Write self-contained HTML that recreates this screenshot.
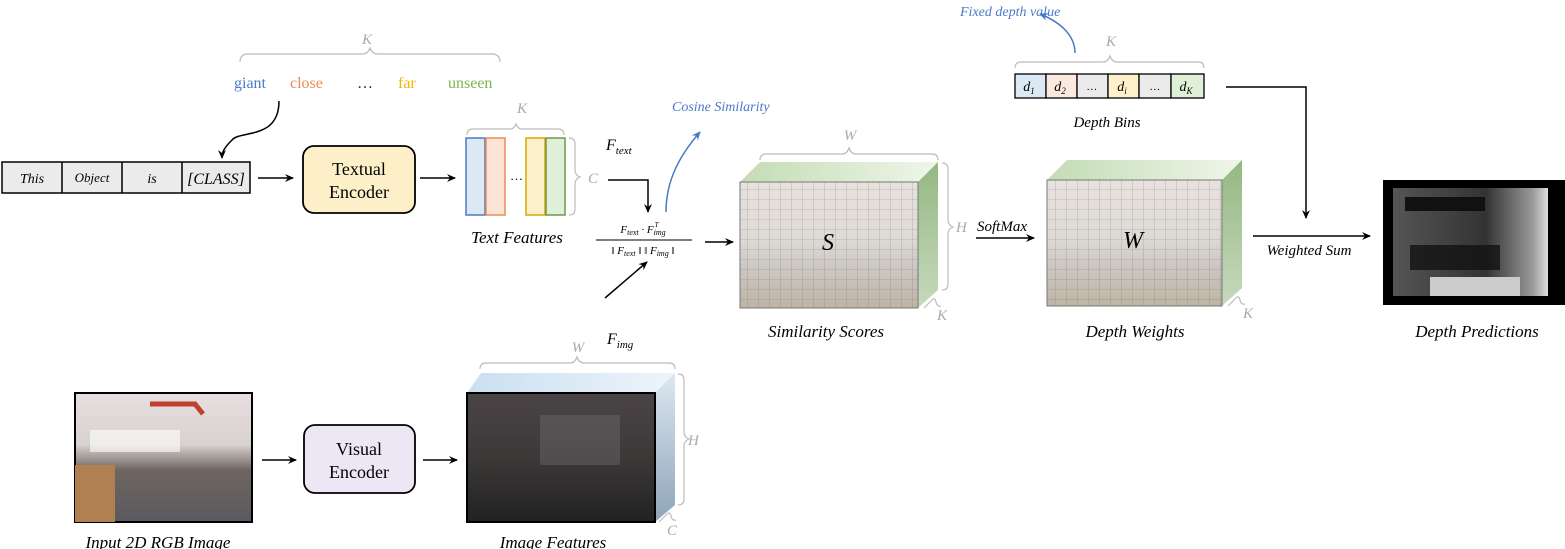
<!DOCTYPE html>
<html><head><meta charset="utf-8"><style>
html,body{margin:0;padding:0;background:#fff;}
svg{display:block;font-family:"Liberation Serif",serif;}
.i{font-style:italic;}
.g{fill:#aaa;font-style:italic;}
</style></head><body>
<svg width="1565" height="549" viewBox="0 0 1565 549" xmlns="http://www.w3.org/2000/svg">
<defs>
<marker id="a" markerWidth="10" markerHeight="10" refX="8" refY="5" orient="auto" markerUnits="userSpaceOnUse"><path d="M0,1 L9,5 L0,9 L3,5z" fill="#000"/></marker>
<marker id="b" markerWidth="10" markerHeight="10" refX="8" refY="5" orient="auto" markerUnits="userSpaceOnUse"><path d="M0,1 L9,5 L0,9 L3,5z" fill="#4a78c8"/></marker>
<pattern id="grid" width="11" height="10" patternUnits="userSpaceOnUse"><path d="M11 0V10H0" fill="none" stroke="#666" stroke-width="0.6" opacity="0.6"/></pattern>
<linearGradient id="room" x1="0" y1="0" x2="0" y2="1"><stop offset="0" stop-color="#e8e2de"/><stop offset="0.45" stop-color="#dedad6"/><stop offset="0.7" stop-color="#cbc6c0"/><stop offset="1" stop-color="#bfb4a4"/></linearGradient>
<linearGradient id="rgb" x1="0" y1="0" x2="0" y2="1"><stop offset="0" stop-color="#e8dfe0"/><stop offset="0.4" stop-color="#d8d2d0"/><stop offset="0.6" stop-color="#6e6560"/><stop offset="1" stop-color="#5a5a60"/></linearGradient>
<linearGradient id="dark" x1="0" y1="0" x2="0" y2="1"><stop offset="0" stop-color="#4a4446"/><stop offset="0.45" stop-color="#3e3a3a"/><stop offset="1" stop-color="#222"/></linearGradient>
<linearGradient id="gtop" x1="0" y1="0" x2="1" y2="0"><stop offset="0" stop-color="#c4dcb4"/><stop offset="1" stop-color="#eef6ea"/></linearGradient>
<linearGradient id="gside" x1="0" y1="0" x2="0" y2="1"><stop offset="0" stop-color="#94b882"/><stop offset="1" stop-color="#c7d9bd"/></linearGradient>
<linearGradient id="btop" x1="0" y1="0" x2="1" y2="0"><stop offset="0" stop-color="#c9dff0"/><stop offset="1" stop-color="#eef4fb"/></linearGradient>
<linearGradient id="bside" x1="0" y1="0" x2="0" y2="1"><stop offset="0" stop-color="#dde8f2"/><stop offset="1" stop-color="#8ea4b8"/></linearGradient>
<linearGradient id="dp" x1="0" y1="0" x2="1" y2="0"><stop offset="0" stop-color="#555"/><stop offset="0.6" stop-color="#333"/><stop offset="0.9" stop-color="#999"/><stop offset="1" stop-color="#ddd"/></linearGradient>
</defs>

<path d="M240,62 q0,-8 8,-8 H362 q6,0 8,-6 q2,6 8,6 H492 q8,0 8,8" fill="none" stroke="#bbb" stroke-width="1.2"/>
<text x="367" y="44" class="g" font-size="15" text-anchor="middle">K</text>
<g font-size="16">
<text x="234" y="88" fill="#4a7cc4">giant</text>
<text x="290" y="88" fill="#ef8a55">close</text>
<text x="357" y="88" fill="#333">…</text>
<text x="398" y="88" fill="#f0b400">far</text>
<text x="448" y="88" fill="#7cb552">unseen</text>
</g>
<path d="M279,101 C279,140 240,130 232,140 C224,148 222,152 222,158" fill="none" stroke="#000" stroke-width="1.5" marker-end="url(#a)"/>

<rect x="2" y="162" width="248" height="31" fill="#ebebeb" stroke="#000" stroke-width="1.5"/>
<path d="M62,162V193M122,162V193M182,162V193" stroke="#000" stroke-width="1.5"/>
<g class="i" font-size="14" text-anchor="middle">
<text x="32" y="183">This</text><text x="92" y="182" font-size="13">Object</text><text x="152" y="183">is</text><text x="216" y="184" font-size="16">[CLASS]</text>
</g>
<line x1="258" y1="178" x2="293" y2="178" stroke="#000" stroke-width="1.5" marker-end="url(#a)"/>
<rect x="303" y="146" width="112" height="67" rx="11" fill="#fdf0c8" stroke="#000" stroke-width="1.8"/>
<text x="359" y="175" font-size="18" text-anchor="middle">Textual</text>
<text x="359" y="198" font-size="18" text-anchor="middle">Encoder</text>
<line x1="420" y1="178" x2="455" y2="178" stroke="#000" stroke-width="1.5" marker-end="url(#a)"/>

<path d="M467,135 q0,-6 6,-6 H510 q4,0 6,-5 q2,5 6,5 H558 q6,0 6,6" fill="none" stroke="#bbb" stroke-width="1.2"/>
<text x="522" y="113" class="g" font-size="15" text-anchor="middle">K</text>
<rect x="466" y="138" width="19" height="77" fill="#dce8f4" stroke="#4a7cc4" stroke-width="1.5"/>
<rect x="486" y="138" width="19" height="77" fill="#fbe3d6" stroke="#ef8a55" stroke-width="1.5"/>
<text x="510" y="180" font-size="13">…</text>
<rect x="526" y="138" width="19" height="77" fill="#fdf1cc" stroke="#d6a800" stroke-width="1.5"/>
<rect x="546" y="138" width="19" height="77" fill="#e0efd8" stroke="#6a9a4c" stroke-width="1.5"/>
<path d="M569,138 q6,0 6,6 V170 q0,5 5,7 q-5,2 -5,7 V209 q0,6 -6,6" fill="none" stroke="#bbb" stroke-width="1.2"/>
<text x="588" y="183" class="g" font-size="15">C</text>
<text x="517" y="243" class="i" font-size="17" text-anchor="middle">Text Features</text>

<text x="606" y="150" class="i" font-size="16">F<tspan font-size="11" dy="4">text</tspan></text>
<path d="M608,180 H648 V212" fill="none" stroke="#000" stroke-width="1.5" marker-end="url(#a)"/>
<text x="643" y="233" class="i" font-size="11" text-anchor="middle">F<tspan font-size="8" dy="2">text</tspan><tspan dy="-2"> · F</tspan><tspan font-size="8" dy="2">img</tspan><tspan font-size="7" dx="-11" dy="-8">T</tspan></text>
<line x1="596" y1="240" x2="692" y2="240" stroke="#000" stroke-width="1"/>
<text x="643" y="254" class="i" font-size="11" text-anchor="middle">‖ F<tspan font-size="8" dy="2">text</tspan><tspan dy="-2"> ‖ ‖ F</tspan><tspan font-size="8" dy="2">img</tspan><tspan dy="-2"> ‖</tspan></text>
<line x1="705" y1="242" x2="733" y2="242" stroke="#000" stroke-width="1.5" marker-end="url(#a)"/>
<line x1="605" y1="298" x2="647" y2="262" stroke="#000" stroke-width="1.5" marker-end="url(#a)"/>
<text x="607" y="344" class="i" font-size="16">F<tspan font-size="11" dy="4">img</tspan></text>
<path d="M666,212 C666,180 680,155 700,132" fill="none" stroke="#4a78c8" stroke-width="1.5" marker-end="url(#b)"/>
<text x="672" y="111" class="i" font-size="14" fill="#4a78c8">Cosine Similarity</text>

<path d="M760,160 q0,-6 6,-6 H842 q5,0 7,-6 q2,6 7,6 H932 q6,0 6,6" fill="none" stroke="#bbb" stroke-width="1.2"/>
<text x="850" y="140" class="g" font-size="15" text-anchor="middle">W</text>
<polygon points="740,182 760,162 938,162 918,182" fill="url(#gtop)"/>
<polygon points="918,182 938,162 938,290 918,308" fill="url(#gside)"/>
<rect x="740" y="182" width="178" height="126" fill="url(#room)"/>
<rect x="740" y="182" width="178" height="126" fill="url(#grid)"/>
<rect x="740" y="182" width="178" height="126" fill="none" stroke="#777" stroke-width="1"/>
<text x="828" y="250" class="i" font-size="24" text-anchor="middle">S</text>
<path d="M942,163 q6,0 6,6 V220 q0,5 5,7 q-5,2 -5,7 V284 q0,6 -6,6" fill="none" stroke="#bbb" stroke-width="1.2"/>
<text x="956" y="232" class="g" font-size="15">H</text>
<path d="M924,308 l8,-8 q3,-3 4,2 q1,5 5,4" fill="none" stroke="#bbb" stroke-width="1.2"/>
<text x="937" y="320" class="g" font-size="15">K</text>
<text x="826" y="337" class="i" font-size="17" text-anchor="middle">Similarity Scores</text>

<text x="977" y="231" class="i" font-size="15">SoftMax</text>
<line x1="976" y1="238" x2="1034" y2="238" stroke="#000" stroke-width="1.5" marker-end="url(#a)"/>

<polygon points="1047,180 1067,160 1242,160 1222,180" fill="url(#gtop)"/>
<polygon points="1222,180 1242,160 1242,288 1222,306" fill="url(#gside)"/>
<rect x="1047" y="180" width="175" height="126" fill="url(#room)"/>
<rect x="1047" y="180" width="175" height="126" fill="url(#grid)"/>
<rect x="1047" y="180" width="175" height="126" fill="none" stroke="#777" stroke-width="1"/>
<text x="1133" y="248" class="i" font-size="24" text-anchor="middle">W</text>
<path d="M1228,306 l8,-8 q3,-3 4,2 q1,5 5,4" fill="none" stroke="#bbb" stroke-width="1.2"/>
<text x="1243" y="318" class="g" font-size="15">K</text>
<text x="1135" y="337" class="i" font-size="17" text-anchor="middle">Depth Weights</text>

<text x="960" y="16" class="i" font-size="14" fill="#4a78c8">Fixed depth value</text>
<path d="M1075,53 C1075,35 1060,22 1040,14" fill="none" stroke="#4a78c8" stroke-width="1.5" marker-end="url(#b)"/>
<path d="M1015,68 q0,-6 6,-6 H1103 q5,0 7,-6 q2,6 7,6 H1198 q6,0 6,6" fill="none" stroke="#bbb" stroke-width="1.2"/>
<text x="1111" y="46" class="g" font-size="15" text-anchor="middle">K</text>
<g stroke="#000" stroke-width="1.3">
<rect x="1015" y="74" width="31" height="24" fill="#dce8f4"/>
<rect x="1046" y="74" width="31" height="24" fill="#fbe8de"/>
<rect x="1077" y="74" width="31" height="24" fill="#ebebeb"/>
<rect x="1108" y="74" width="31" height="24" fill="#fdf1cc"/>
<rect x="1139" y="74" width="32" height="24" fill="#ebebeb"/>
<rect x="1171" y="74" width="33" height="24" fill="#e0efd8"/>
</g>
<g class="i" font-size="14" text-anchor="middle">
<text x="1029" y="91">d<tspan font-size="9" dy="3">1</tspan></text>
<text x="1060" y="91">d<tspan font-size="9" dy="3">2</tspan></text>
<text x="1092" y="90" font-size="11">…</text>
<text x="1122" y="91">d<tspan font-size="9" dy="3">i</tspan></text>
<text x="1155" y="90" font-size="11">…</text>
<text x="1186" y="91">d<tspan font-size="9" dy="3">K</tspan></text>
</g>
<text x="1107" y="127" class="i" font-size="15" text-anchor="middle">Depth Bins</text>
<path d="M1226,87 H1306 V218" fill="none" stroke="#000" stroke-width="1.5" marker-end="url(#a)"/>
<line x1="1253" y1="236" x2="1370" y2="236" stroke="#000" stroke-width="1.5" marker-end="url(#a)"/>
<text x="1309" y="255" class="i" font-size="15" text-anchor="middle">Weighted Sum</text>

<rect x="1383" y="180" width="182" height="125" fill="#000"/>
<rect x="1393" y="188" width="155" height="108" fill="url(#dp)"/>
<rect x="1405" y="197" width="80" height="14" fill="#111"/>
<rect x="1430" y="277" width="90" height="19" fill="#ccc"/>
<rect x="1410" y="245" width="90" height="25" fill="#111" opacity="0.8"/>
<text x="1477" y="337" class="i" font-size="17" text-anchor="middle">Depth Predictions</text>

<rect x="75" y="393" width="177" height="129" fill="url(#rgb)" stroke="#000" stroke-width="2"/>
<rect x="75" y="465" width="40" height="57" fill="#b08050"/>
<rect x="90" y="430" width="90" height="22" fill="#fff" opacity="0.6"/>
<path d="M150,404 H195 l8,10" stroke="#c04030" stroke-width="5" fill="none"/>
<text x="158" y="548" class="i" font-size="17" text-anchor="middle">Input 2D RGB Image</text>
<line x1="262" y1="460" x2="296" y2="460" stroke="#000" stroke-width="1.5" marker-end="url(#a)"/>
<rect x="304" y="425" width="111" height="68" rx="11" fill="#ede6f5" stroke="#000" stroke-width="1.8"/>
<text x="359" y="455" font-size="18" text-anchor="middle">Visual</text>
<text x="359" y="478" font-size="18" text-anchor="middle">Encoder</text>
<line x1="423" y1="460" x2="457" y2="460" stroke="#000" stroke-width="1.5" marker-end="url(#a)"/>

<path d="M480,369 q0,-6 6,-6 H570 q5,0 7,-6 q2,6 7,6 H669 q6,0 6,6" fill="none" stroke="#bbb" stroke-width="1.2"/>
<text x="578" y="352" class="g" font-size="15" text-anchor="middle">W</text>
<polygon points="467,393 481,373 675,373 655,393" fill="url(#btop)"/>
<polygon points="655,393 675,373 675,505 655,522" fill="url(#bside)"/>
<rect x="467" y="393" width="188" height="129" fill="url(#dark)" stroke="#000" stroke-width="2"/>
<rect x="540" y="415" width="80" height="50" fill="#777" opacity="0.35"/>
<path d="M678,374 q6,0 6,6 V432 q0,5 5,7 q-5,2 -5,7 V499 q0,6 -6,6" fill="none" stroke="#bbb" stroke-width="1.2"/>
<text x="688" y="445" class="g" font-size="15">H</text>
<path d="M659,522 l8,-8 q3,-3 4,2 q1,5 5,4" fill="none" stroke="#bbb" stroke-width="1.2"/>
<text x="667" y="535" class="g" font-size="15">C</text>
<text x="553" y="548" class="i" font-size="17" text-anchor="middle">Image Features</text>
</svg>
</body></html>
